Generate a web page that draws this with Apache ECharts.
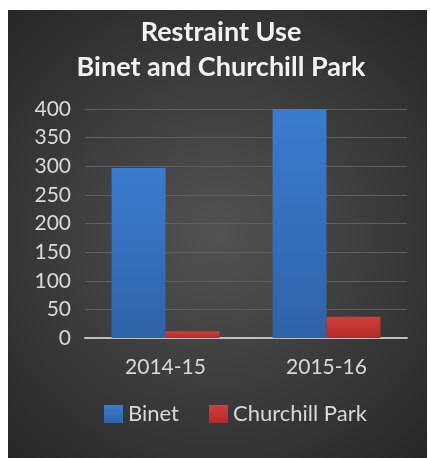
<!DOCTYPE html>
<html><head><meta charset="utf-8">
<script src="https://cdn.jsdelivr.net/npm/echarts@6/dist/echarts.min.js"></script>
<style>html,body{margin:0;padding:0;background:#fff;}#c{width:430px;height:458px;}</style>
</head><body><div id="c"></div>
<script>
const categories = ['2014-15', '2015-16'];
const binet = [297, 400];
const churchill = [12, 37];
const yTicks = { min: 0, max: 400, interval: 50 };
const titleLines = ['Restraint Use', 'Binet and Churchill Park'];
const seriesNames = ['Binet', 'Churchill Park'];

const font = 'Lato, "Open Sans", sans-serif';
const chart = echarts.init(document.getElementById('c'), null, {renderer: 'canvas'});
chart.setOption({
  backgroundColor: '#ffffff',
  graphic: [{
    type: 'rect', z: -10, silent: true,
    shape: { x: 8, y: 10, width: 419, height: 448 },
    style: { fill: { type: 'radial', x: 0.5, y: 0.5, r: 0.75,
      colorStops: [{offset: 0, color: '#525252'}, {offset: 1, color: '#262626'}] } }
  }],
  title: {
    text: titleLines.join('\n'), left: 216, textAlign: 'center', top: 10,
    textStyle: { color: '#f2f2f2', fontFamily: font, fontWeight: 'bold', fontSize: 27, lineHeight: 35 }
  },
  legend: {
    data: seriesNames, bottom: 28, left: 99, itemWidth: 19, itemHeight: 18, itemGap: 30,
    icon: 'rect',
    textStyle: { color: '#d9d9d9', fontFamily: font, fontSize: 22 }
  },
  grid: { left: 85, right: 23, top: 109, bottom: 120, containLabel: false },
  xAxis: {
    type: 'category', data: categories,
    axisLine: { lineStyle: { color: '#bfbfbf', width: 2 } },
    axisTick: { show: false },
    axisLabel: { color: '#d9d9d9', fontFamily: font, fontSize: 21, margin: 19 }
  },
  yAxis: {
    type: 'value', min: yTicks.min, max: yTicks.max, interval: yTicks.interval,
    axisLine: { show: false }, axisTick: { show: false },
    axisLabel: { color: '#d9d9d9', fontFamily: font, fontSize: 21, margin: 14 },
    splitLine: { lineStyle: { color: '#5f5f5f', width: 1 } }
  },
  series: [
    { name: seriesNames[0], type: 'bar', data: binet, barGap: '0%', barCategoryGap: '33%',
      itemStyle: { color: { type: 'linear', x: 0, y: 0, x2: 0, y2: 1,
        colorStops: [{offset: 0, color: '#3a7ccf'}, {offset: 1, color: '#2f63a8'}] } } },
    { name: seriesNames[1], type: 'bar', data: churchill,
      itemStyle: { color: { type: 'linear', x: 0, y: 0, x2: 0, y2: 1,
        colorStops: [{offset: 0, color: '#d43d37'}, {offset: 1, color: '#b02c29'}] } } }
  ]
});
</script></body></html>
